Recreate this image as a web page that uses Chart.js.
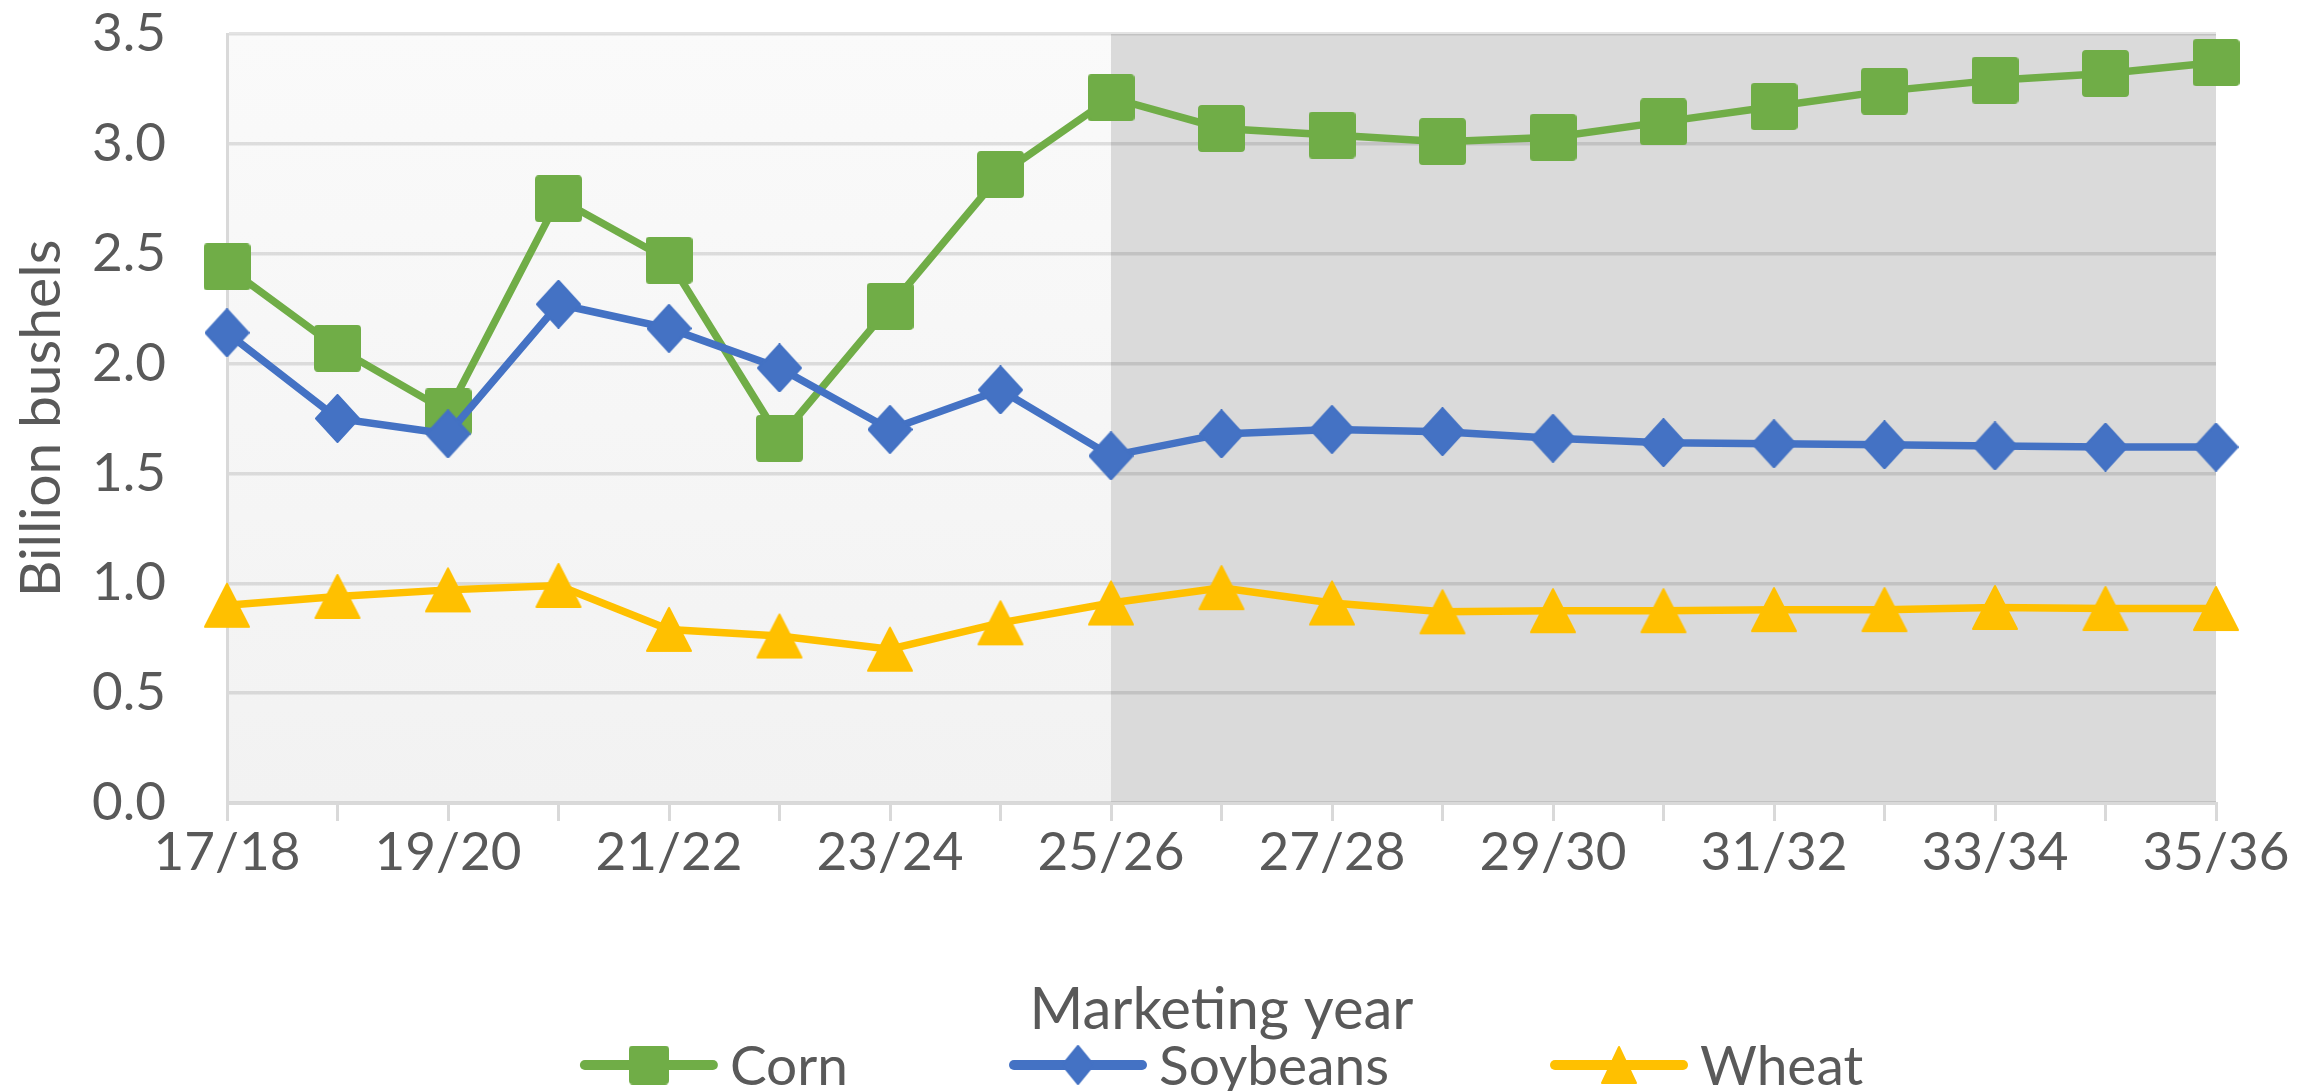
<!DOCTYPE html>
<html>
<head>
<meta charset="utf-8">
<script src="https://cdn.jsdelivr.net/npm/chart.js@4.4.0/dist/chart.umd.min.js"></script>
<style>
  html, body { margin: 0; padding: 0; background: #fff; }
  #wrap { width: 2298px; height: 1091px; }
</style>
</head>
<body>
<div id="wrap"><canvas id="chart"></canvas></div>
<script>
const years = ['17/18', '18/19', '19/20', '20/21', '21/22', '22/23', '23/24', '24/25', '25/26', '26/27',
  '27/28', '28/29', '29/30', '30/31', '31/32', '32/33', '33/34', '34/35', '35/36'];
const corn = [2.44, 2.07, 1.78, 2.75, 2.47, 1.66, 2.26, 2.86, 3.21, 3.07,
  3.04, 3.01, 3.03, 3.10, 3.17, 3.24, 3.29, 3.32, 3.37];
const soybeans = [2.14, 1.75, 1.68, 2.27, 2.16, 1.98, 1.70, 1.88, 1.58, 1.68,
  1.70, 1.69, 1.66, 1.64, 1.635, 1.63, 1.625, 1.62, 1.62];
const wheat = [0.90, 0.94, 0.97, 0.99, 0.79, 0.76, 0.70, 0.82, 0.91, 0.98,
  0.91, 0.87, 0.875, 0.875, 0.88, 0.88, 0.89, 0.885, 0.885];
const projectionStart = '25/26';

const textColor = '#595959';
const fontFamily = 'Lato';
Chart.defaults.font.family = fontFamily;
Chart.defaults.color = textColor;

// marker images, so the shapes look like the Excel ones
function marker(shape, color, w, h) {
  const c = document.createElement('canvas');
  c.width = w + 2;
  c.height = h + 2;
  const g = c.getContext('2d');
  g.fillStyle = color;
  g.strokeStyle = color;
  g.lineJoin = 'round';
  g.lineWidth = 2;
  const x0 = 1, y0 = 1;
  g.beginPath();
  if (shape === 'square') {
    g.roundRect(x0, y0, w, h, 3);
  } else if (shape === 'diamond') {
    g.moveTo(x0 + w / 2, y0);
    g.lineTo(x0 + w, y0 + h / 2);
    g.lineTo(x0 + w / 2, y0 + h);
    g.lineTo(x0, y0 + h / 2);
    g.closePath();
  } else {
    g.moveTo(x0 + w / 2, y0 + 1);
    g.lineTo(x0 + w - 1, y0 + h - 1);
    g.lineTo(x0 + 1, y0 + h - 1);
    g.closePath();
  }
  g.fill();
  g.stroke();
  return c;
}

const colors = { corn: '#70ad47', soybeans: '#4472c4', wheat: '#ffc000' };

// grey shading: history on the left, projections on the right
const shading = {
  id: 'shading',
  beforeDraw(chart) {
    const { ctx, chartArea: a, scales: { x } } = chart;
    const split = x.getPixelForValue(years.indexOf(projectionStart));
    ctx.save();
    const grad = ctx.createLinearGradient(0, a.top, 0, a.bottom);
    grad.addColorStop(0, '#fafafa');
    grad.addColorStop(1, '#f2f2f2');
    ctx.fillStyle = grad;
    ctx.fillRect(a.left, a.top, split - a.left, a.bottom - a.top);
    ctx.fillStyle = '#dadada';
    ctx.fillRect(split, a.top, a.right - split, a.bottom - a.top);
    ctx.restore();
  }
};

// legend with a line through the marker, like Excel does
const lineLegend = {
  id: 'lineLegend',
  afterDraw(chart) {
    const { ctx, chartArea: a } = chart;
    const lineLen = 138, textGap = 12, itemGap = 161, y = 1065;
    ctx.save();
    ctx.font = '55px ' + fontFamily;
    const items = chart.data.datasets.map(ds => ({
      ds: ds,
      w: lineLen + textGap + ctx.measureText(ds.label).width
    }));
    const total = items.reduce((s, it) => s + it.w, 0) + itemGap * (items.length - 1);
    let x = (a.left + a.right) / 2 - total / 2;
    items.forEach(it => {
      ctx.strokeStyle = it.ds.borderColor;
      ctx.lineWidth = 10;
      ctx.lineCap = 'round';
      ctx.beginPath();
      ctx.moveTo(x + 5, y);
      ctx.lineTo(x + lineLen - 5, y);
      ctx.stroke();
      const m = it.ds.legendMarker;
      ctx.drawImage(m, x + lineLen / 2 - m.width / 2, y - m.height / 2);
      ctx.fillStyle = textColor;
      ctx.textBaseline = 'middle';
      ctx.textAlign = 'left';
      ctx.fillText(it.ds.label, x + lineLen + textGap, y + 2);
      x += it.w + itemGap;
    });
    ctx.restore();
  }
};

new Chart(document.getElementById('chart'), {
  type: 'line',
  data: {
    labels: years,
    datasets: [
      {
        label: 'Corn',
        data: corn,
        borderColor: colors.corn,
        backgroundColor: colors.corn,
        borderWidth: 7.5,
        pointStyle: marker('square', colors.corn, 45, 45),
        legendMarker: marker('square', colors.corn, 38, 37),
        pointRadius: 22,
        order: 3
      },
      {
        label: 'Soybeans',
        data: soybeans,
        borderColor: colors.soybeans,
        backgroundColor: colors.soybeans,
        borderWidth: 7.5,
        pointStyle: marker('diamond', colors.soybeans, 43, 47),
        legendMarker: marker('diamond', colors.soybeans, 31, 38),
        pointRadius: 22,
        order: 2
      },
      {
        label: 'Wheat',
        data: wheat,
        borderColor: colors.wheat,
        backgroundColor: colors.wheat,
        borderWidth: 7.5,
        pointStyle: marker('triangle', colors.wheat, 46, 45),
        legendMarker: marker('triangle', colors.wheat, 36, 38),
        pointRadius: 22,
        order: 1
      }
    ]
  },
  options: {
    responsive: true,
    maintainAspectRatio: false,
    animation: false,
    clip: false,
    layout: { padding: { left: 0, right: 82, top: 34, bottom: 0 } },
    plugins: {
      legend: { display: false },
      tooltip: { enabled: false }
    },
    scales: {
      x: {
        offset: false,
        grid: { drawOnChartArea: false, drawTicks: true, tickLength: 18, color: '#d9d9d9', lineWidth: 3 },
        border: { color: '#d9d9d9', width: 3 },
        ticks: {
          autoSkip: false,
          maxRotation: 0,
          padding: 0,
          font: { size: 53 },
          callback: (v, i) => (i % 2 === 0 ? years[i] : '')
        },
        title: { display: true, text: 'Marketing year', font: { size: 58 }, padding: { top: 0, bottom: 46 } },
        afterFit: s => { s.height = 288; }
      },
      y: {
        min: 0,
        max: 3.5,
        grid: { color: 'rgba(0,0,0,0.11)', lineWidth: 3.5, drawTicks: false },
        border: { color: '#d9d9d9', width: 3 },
        ticks: {
          stepSize: 0.5,
          padding: 61,
          font: { size: 53 },
          callback: v => v.toFixed(1)
        },
        title: { display: true, text: 'Billion bushels', font: { size: 57 }, padding: { top: 7, bottom: 0 } },
        afterFit: s => {
          s.width = 227;
          s.paddingTop = 0;
          s.paddingBottom = 0;
        }
      }
    }
  },
  plugins: [shading, lineLegend]
});
</script>
</body>
</html>
